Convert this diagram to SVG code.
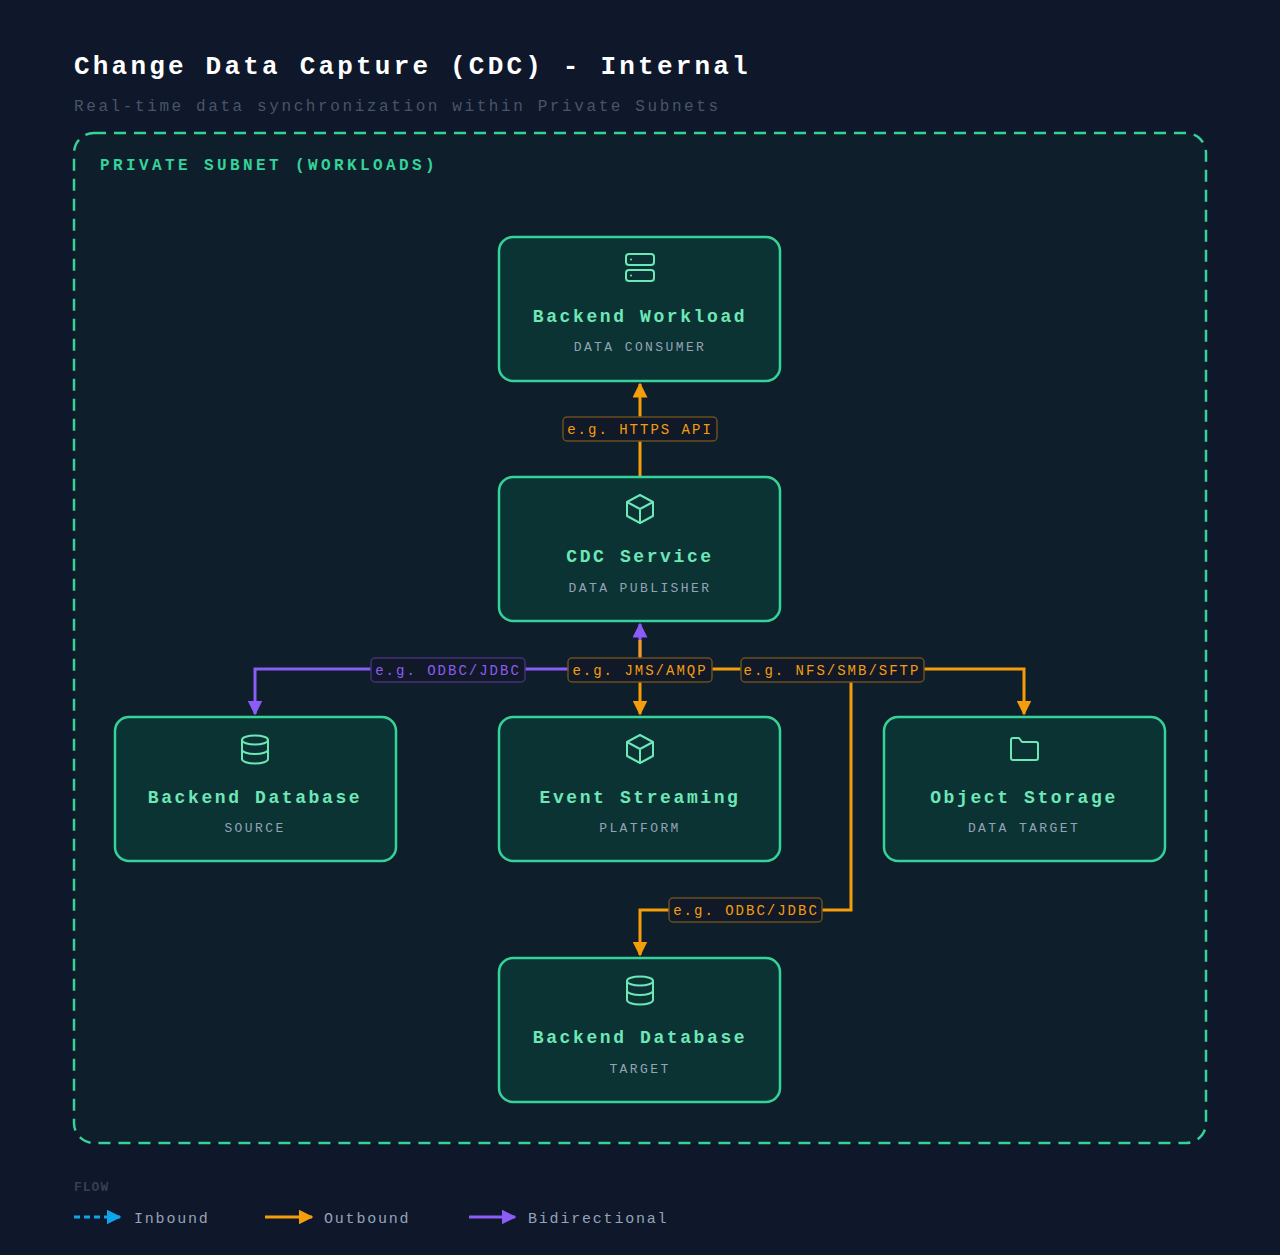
<svg xmlns="http://www.w3.org/2000/svg" width="1280" height="1255" viewBox="0 0 1280 1255">
<style>
text{font-family:"Courier New","Nimbus Mono PS","FreeMono","Liberation Mono",monospace}
.node{fill:#0b3333;stroke:#34d399;stroke-width:2.5}
.nt{font-size:18px;font-weight:bold;fill:#6ee7b7;letter-spacing:2.6px;text-anchor:middle}
.ns{font-size:13px;fill:#94a3b8;letter-spacing:2.4px;text-anchor:middle}
.ic{fill:none;stroke:#6ee7b7;stroke-width:2;stroke-linecap:round;stroke-linejoin:round}
.o{fill:none;stroke:#f59e0b;stroke-width:3}
.p{fill:none;stroke:#8b5cf6;stroke-width:3}
.lo{fill:#111827;stroke:#6b4f1f;stroke-width:1.5}
.lp{fill:#111827;stroke:#45307a;stroke-width:1.5}
.lt{font-size:14px;letter-spacing:2px;text-anchor:middle}
.lg{font-size:15px;fill:#94a3b8;letter-spacing:1.8px}
</style>
<defs>
<marker id="ao" viewBox="0 0 10 10" refX="9" refY="5" markerWidth="5" markerHeight="5" orient="auto-start-reverse"><path d="M0,0L10,5L0,10z" fill="#f59e0b"/></marker>
<marker id="ap" viewBox="0 0 10 10" refX="9" refY="5" markerWidth="5" markerHeight="5" orient="auto-start-reverse"><path d="M0,0L10,5L0,10z" fill="#8b5cf6"/></marker>
<marker id="ab" viewBox="0 0 10 10" refX="9" refY="5" markerWidth="5" markerHeight="5" orient="auto"><path d="M0,0L10,5L0,10z" fill="#0ea5e9"/></marker>
</defs>
<rect width="1280" height="1255" fill="#0f172a"/>
<text x="74" y="74" font-size="26" font-weight="bold" fill="#ffffff" letter-spacing="3.2">Change Data Capture (CDC) - Internal</text>
<text x="74" y="111" font-size="16" fill="#475569" letter-spacing="2.6">Real-time data synchronization within Private Subnets</text>
<g id="subnet">
<rect x="74" y="133" width="1132" height="1010" rx="20" fill="#0e1f2b" stroke="#34d399" stroke-width="2.5" stroke-dasharray="12 8"/>
<text x="100" y="170" font-size="16" font-weight="bold" fill="#34d399" letter-spacing="3.4">PRIVATE SUBNET (WORKLOADS)</text>
</g>
<g id="connectors">
<path class="o" d="M640,477V384" marker-end="url(#ao)"/>
<path class="o" d="M640,669V714" marker-end="url(#ao)"/>
<path class="o" d="M640,669H1024V714" marker-end="url(#ao)"/>
<path class="o" d="M851,669V910H640V955" marker-end="url(#ao)"/>
<path class="p" d="M255,714V669H640V624" marker-start="url(#ap)" marker-end="url(#ap)"/>
<path class="o" d="M640,669V640"/>
<rect class="lo" x="563" y="417" width="154" height="24" rx="4"/><text class="lt" x="640" y="434" fill="#f59e0b">e.g. HTTPS API</text>
<rect class="lp" x="371" y="658" width="154" height="24" rx="4"/><text class="lt" x="448" y="675" fill="#8b5cf6">e.g. ODBC/JDBC</text>
<rect class="lo" x="568" y="658" width="144" height="24" rx="4"/><text class="lt" x="640" y="675" fill="#f59e0b">e.g. JMS/AMQP</text>
<rect class="lo" x="741" y="658" width="183" height="24" rx="4"/><text class="lt" x="832" y="675" fill="#f59e0b">e.g. NFS/SMB/SFTP</text>
<rect class="lo" x="669" y="898" width="153" height="24" rx="4"/><text class="lt" x="746" y="915" fill="#f59e0b">e.g. ODBC/JDBC</text>
</g>
<g id="workload">
<rect class="node" x="499" y="237" width="281" height="144" rx="14"/>
<rect class="ic" x="626" y="254" width="28" height="11" rx="3"/><rect class="ic" x="626" y="270" width="28" height="11" rx="3"/>
<circle cx="631" cy="259.5" r="1" fill="#6ee7b7"/><circle cx="631" cy="275.5" r="1" fill="#6ee7b7"/>
<text class="nt" x="640" y="322">Backend Workload</text><text class="ns" x="640" y="351">DATA CONSUMER</text>
</g>
<g id="cdc">
<rect class="node" x="499" y="477" width="281" height="144" rx="14"/>
<path class="ic" d="M640,495L653,502V516L640,523L627,516V502Z M627,502L640,509L653,502 M640,509V523"/>
<text class="nt" x="640" y="562">CDC Service</text><text class="ns" x="640" y="592">DATA PUBLISHER</text>
</g>
<g id="srcdb">
<rect class="node" x="115" y="717" width="281" height="144" rx="14"/>
<g class="ic"><ellipse cx="255" cy="740" rx="13" ry="4.5"/><path d="M242,740V759A13,4.5 0 0 0 268,759V740 M242,749.5A13,4.5 0 0 0 268,749.5"/></g>
<text class="nt" x="255" y="803">Backend Database</text><text class="ns" x="255" y="832">SOURCE</text>
</g>
<g id="streaming">
<rect class="node" x="499" y="717" width="281" height="144" rx="14"/>
<path class="ic" d="M640,735L653,742V756L640,763L627,756V742Z M627,742L640,749L653,742 M640,749V763"/>
<text class="nt" x="640" y="803">Event Streaming</text><text class="ns" x="640" y="832">PLATFORM</text>
</g>
<g id="storage">
<rect class="node" x="884" y="717" width="281" height="144" rx="14"/>
<path class="ic" d="M1011,740A2,2 0 0 1 1013,738H1019L1022,742H1036A2,2 0 0 1 1038,744V758A2,2 0 0 1 1036,760H1013A2,2 0 0 1 1011,758Z"/>
<text class="nt" x="1024" y="803">Object Storage</text><text class="ns" x="1024" y="832">DATA TARGET</text>
</g>
<g id="tgtdb">
<rect class="node" x="499" y="958" width="281" height="144" rx="14"/>
<g class="ic"><ellipse cx="640" cy="981" rx="13" ry="4.5"/><path d="M627,981V1000A13,4.5 0 0 0 653,1000V981 M627,990.5A13,4.5 0 0 0 653,990.5"/></g>
<text class="nt" x="640" y="1043">Backend Database</text><text class="ns" x="640" y="1073">TARGET</text>
</g>
<g id="legend">
<text x="74" y="1191" font-size="13" font-weight="bold" fill="#334155" letter-spacing="1">FLOW</text>
<path d="M74,1217H120" stroke="#0ea5e9" stroke-width="3" stroke-dasharray="6 4" marker-end="url(#ab)"/>
<text class="lg" x="134" y="1223">Inbound</text>
<path d="M265,1217H312" class="o" marker-end="url(#ao)"/>
<text class="lg" x="324" y="1223">Outbound</text>
<path d="M469,1217H515" class="p" marker-end="url(#ap)"/>
<text class="lg" x="528" y="1223">Bidirectional</text>
</g>
</svg>
